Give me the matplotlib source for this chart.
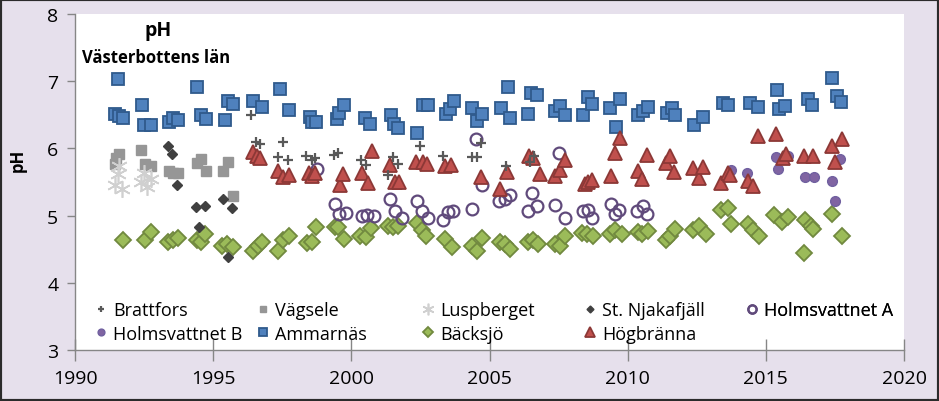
import numpy as np
import matplotlib.pyplot as plt

plt.rcParams['font.family'] = ['Open Sans', 'DejaVu Sans']

# ---------------- data (year, pH) ----------------
brattfors_yr = [1996.36, 1996.55, 1996.70, 1997.33, 1997.52, 1997.70, 1998.36, 1998.57, 1998.68,
                1999.36, 1999.52, 2000.35, 2000.53, 2001.34, 2001.50, 2001.68, 2002.50, 2003.33,
                2004.36, 2004.53, 2004.70, 2005.60, 2006.45, 2006.60]
brattfors_ph = [6.50, 6.10, 6.06, 5.87, 6.10, 5.82, 5.89, 5.83, 5.85,
                5.90, 5.93, 5.83, 5.76, 5.60, 5.87, 5.77, 6.03, 5.88,
                5.87, 5.87, 6.08, 5.74, 5.80, 5.88]

vagsele_yr = [1991.45, 1991.50, 1991.60, 1992.40, 1992.55, 1992.75, 1993.40, 1993.56, 1993.74,
              1994.40, 1994.56, 1994.74, 1995.37, 1995.55, 1995.70]
vagsele_ph = [5.77, 5.85, 5.91, 5.97, 5.77, 5.74, 5.66, 5.64, 5.64,
              5.79, 5.84, 5.67, 5.67, 5.80, 5.29]

luspberget_yr = [1991.45, 1991.55, 1991.60, 1991.70, 1992.40, 1992.50, 1992.60, 1992.75]
luspberget_ph = [5.45, 5.62, 5.74, 5.40, 5.50, 5.64, 5.43, 5.55]

njakafjall_yr = [1993.35, 1993.50, 1993.70, 1994.37, 1994.50, 1994.70, 1995.37, 1995.52, 1995.67]
njakafjall_ph = [6.03, 5.91, 5.46, 5.13, 4.83, 5.15, 5.25, 4.38, 5.11]

holmA_yr = [1998.77, 1999.41, 1999.57, 1999.81, 2000.38, 2000.56, 2000.82, 2001.40, 2001.58, 2001.82,
            2002.39, 2002.57, 2002.79, 2003.30, 2003.51, 2003.69, 2004.36, 2004.52, 2004.72,
            2005.34, 2005.56, 2005.74, 2006.41, 2006.53, 2006.71, 2007.37, 2007.53, 2007.73,
            2008.37, 2008.55, 2008.70, 2009.39, 2009.54, 2009.70, 2010.35, 2010.54, 2010.71]
holmA_ph = [5.69, 5.17, 5.02, 5.04, 4.99, 5.01, 4.99, 5.24, 5.07, 4.96,
            5.22, 5.07, 4.96, 4.94, 5.06, 5.07, 5.10, 6.14, 5.45,
            5.22, 5.25, 5.30, 5.07, 5.34, 5.15, 5.16, 5.93, 4.97,
            5.07, 5.09, 4.97, 5.17, 5.02, 5.09, 5.07, 5.14, 5.02]

holmB_yr = [2013.73, 2014.31, 2015.37, 2015.45, 2015.80, 2016.40, 2016.74, 2017.41, 2017.50, 2017.69]
holmB_ph = [5.68, 5.63, 5.87, 5.70, 5.88, 5.58, 5.58, 5.52, 5.22, 5.84]

ammarnas_yr = [1991.45, 1991.57, 1991.60, 1991.74, 1992.41, 1992.50, 1992.75, 1993.40, 1993.56, 1993.74,
               1994.40, 1994.56, 1994.74, 1995.43, 1995.55, 1995.70, 1996.45, 1996.76, 1997.42, 1997.75,
               1998.50, 1998.56, 1998.71, 1999.47, 1999.55, 1999.73, 2000.50, 2000.68,
               2001.44, 2001.56, 2001.70, 2002.37, 2002.60, 2002.76, 2003.41, 2003.57, 2003.73,
               2004.38, 2004.54, 2004.72, 2005.42, 2005.66, 2005.74, 2006.38, 2006.50, 2006.71,
               2007.37, 2007.55, 2007.73, 2008.37, 2008.55, 2008.72, 2009.36, 2009.57, 2009.72,
               2010.39, 2010.57, 2010.73, 2011.41, 2011.60, 2011.72, 2012.41, 2012.74,
               2013.46, 2013.64, 2014.43, 2014.71, 2015.40, 2015.46, 2015.70, 2016.54, 2016.66,
               2017.41, 2017.57, 2017.72]
ammarnas_ph = [6.51, 7.03, 6.48, 6.45, 6.64, 6.35, 6.35, 6.40, 6.45, 6.42,
               6.92, 6.50, 6.44, 6.43, 6.71, 6.66, 6.70, 6.61, 6.89, 6.57,
               6.46, 6.39, 6.39, 6.44, 6.52, 6.64, 6.45, 6.37,
               6.50, 6.36, 6.31, 6.23, 6.64, 6.65, 6.51, 6.59, 6.70,
               6.60, 6.41, 6.51, 6.60, 6.91, 6.45, 6.51, 6.82, 6.80,
               6.56, 6.63, 6.49, 6.49, 6.76, 6.66, 6.60, 6.32, 6.73,
               6.49, 6.56, 6.62, 6.52, 6.60, 6.49, 6.35, 6.47,
               6.67, 6.64, 6.67, 6.62, 6.87, 6.59, 6.63, 6.74, 6.65,
               7.05, 6.78, 6.69]

backsjo_yr = [1991.75, 1992.53, 1992.75, 1993.38, 1993.56, 1993.74, 1994.40, 1994.56, 1994.70,
              1995.31, 1995.49, 1995.73, 1996.45, 1996.63, 1996.76, 1997.36, 1997.54, 1997.75,
              1998.38, 1998.59, 1998.72, 1999.41, 1999.53, 1999.75, 2000.32, 2000.52, 2000.71,
              2001.34, 2001.52, 2001.70, 2002.37, 2002.55, 2002.69, 2003.39, 2003.63,
              2004.36, 2004.54, 2004.72, 2005.38, 2005.56, 2005.74, 2006.41, 2006.59, 2006.75,
              2007.37, 2007.55, 2007.73, 2008.34, 2008.52, 2008.76, 2009.36, 2009.54, 2009.78,
              2010.39, 2010.53, 2010.73, 2011.38, 2011.53, 2011.72, 2012.38, 2012.58, 2012.82,
              2013.38, 2013.64, 2013.74, 2014.34, 2014.55, 2014.76, 2015.31, 2015.57, 2015.80,
              2016.38, 2016.42, 2016.63, 2016.72, 2017.39, 2017.75]
backsjo_ph = [4.64, 4.63, 4.75, 4.60, 4.63, 4.67, 4.63, 4.60, 4.73,
              4.55, 4.58, 4.54, 4.48, 4.55, 4.60, 4.47, 4.63, 4.69,
              4.59, 4.60, 4.83, 4.83, 4.83, 4.65, 4.70, 4.68, 4.82,
              4.85, 4.83, 4.84, 4.89, 4.78, 4.70, 4.65, 4.54,
              4.55, 4.48, 4.67, 4.60, 4.58, 4.50, 4.60, 4.63, 4.57,
              4.58, 4.55, 4.70, 4.74, 4.73, 4.69, 4.73, 4.79, 4.73,
              4.75, 4.72, 4.77, 4.63, 4.69, 4.80, 4.79, 4.85, 4.73,
              5.08, 5.11, 4.88, 4.88, 4.78, 4.69, 5.01, 4.91, 4.98,
              4.44, 4.94, 4.84, 4.80, 5.02, 4.70]

hogbranna_yr = [1996.45, 1996.58, 1996.69, 1997.34, 1997.54, 1997.75, 1998.45, 1998.57, 1998.69,
                1999.59, 1999.71, 2000.38, 2000.59, 2000.75, 2001.40, 2001.57, 2001.73,
                2002.35, 2002.60, 2002.73, 2003.39, 2003.60, 2004.70, 2005.37, 2005.62,
                2006.44, 2006.56, 2006.83, 2007.37, 2007.55, 2007.73, 2008.46, 2008.58, 2008.70,
                2009.39, 2009.54, 2009.72, 2010.37, 2010.52, 2010.69, 2011.37, 2011.54, 2011.69,
                2012.38, 2012.58, 2012.74, 2013.38, 2013.62, 2013.70, 2014.37, 2014.55, 2014.71,
                2015.38, 2015.61, 2015.73, 2016.38, 2016.72, 2017.39, 2017.50, 2017.75]
hogbranna_ph = [5.94, 5.89, 5.85, 5.66, 5.57, 5.61, 5.64, 5.59, 5.64,
                5.46, 5.62, 5.64, 5.48, 5.96, 5.76, 5.50, 5.50,
                5.80, 5.80, 5.77, 5.74, 5.76, 5.57, 5.40, 5.65,
                5.88, 5.85, 5.62, 5.59, 5.68, 5.83, 5.47, 5.50, 5.53,
                5.59, 5.93, 6.16, 5.67, 5.54, 5.90, 5.78, 5.88, 5.65,
                5.71, 5.56, 5.72, 5.48, 5.64, 5.61, 5.52, 5.44, 6.19,
                6.22, 5.85, 5.92, 5.89, 5.89, 6.03, 5.80, 6.14]

# ---------------- figure ----------------
W, H = 939, 402
fig = plt.figure(figsize=(W / 100, H / 100), dpi=100, facecolor='#E6E0EC')
ax = fig.add_axes([75 / W, 1 - 351 / H, (904 - 75) / W, (351 - 15) / H])
ax.set_facecolor('white')

series = [
    ('Brattfors', brattfors_yr, brattfors_ph,
     dict(marker='+', color='#595959', ms=7, mew=1.6, zorder=9)),
    ('Vägsele', vagsele_yr, vagsele_ph,
     dict(marker='s', color='#969696', mec='#969696', ms=7, zorder=6)),
    ('Luspberget', luspberget_yr, luspberget_ph,
     dict(marker=(6, 2, 0), color='#D0D0D0', ms=12, mew=1.2, zorder=7)),
    ('St. Njakafjäll', njakafjall_yr, njakafjall_ph,
     dict(marker='D', color='#404040', mec='#404040', ms=5, zorder=8)),
    ('Holmsvattnet A', holmA_yr, holmA_ph,
     dict(marker='o', mfc='none', mec='#604A7B', ms=8.5, mew=1.6, zorder=3)),
    ('Holmsvattnet B', holmB_yr, holmB_ph,
     dict(marker='o', color='#8064A2', mec='#7060A0', ms=7, zorder=3)),
    ('Ammarnäs', ammarnas_yr, ammarnas_ph,
     dict(marker='s', color='#4F81BD', mec='#2F5A8C', ms=9, mew=1.3, zorder=4)),
    ('Bäcksjö', backsjo_yr, backsjo_ph,
     dict(marker='D', color='#9BBB59', mec='#71893F', ms=8, mew=1.3, zorder=2)),
    ('Högbränna', hogbranna_yr, hogbranna_ph,
     dict(marker='^', color='#C0504D', mec='#8C3836', ms=10.5, mew=1.3, zorder=5)),
]

handles = {}
for name, x, y, st in series:
    ln, = ax.plot(x, y, ls='none', label=name, **st)
    handles[name] = ln

ax.set_xlim(1990, 2020)
ax.set_ylim(3, 8)
ax.set_xticks(np.arange(1990, 2021, 5))
ax.set_yticks(np.arange(3, 9, 1))

for side in ['top', 'right']:
    ax.spines[side].set_visible(False)
for side in ['left', 'bottom']:
    ax.spines[side].set_color('#868686')
    ax.spines[side].set_linewidth(1)

ax.tick_params(axis='y', direction='out', length=6, width=1, color='#868686',
               labelsize=14, pad=6)
ax.tick_params(axis='x', direction='inout', length=16, width=1, color='#868686',
               labelsize=14, pad=6)

# titles inside the plot area
ax.text(0.100, 0.952, 'pH', transform=ax.transAxes, ha='center', va='center',
        fontsize=14, fontweight='bold')
ax.text(0.098, 0.872, 'Västerbottens län', transform=ax.transAxes, ha='center',
        va='center', fontsize=12, fontweight='bold')
fig.text(18 / W, 1 - 160 / H, 'pH', rotation=90, ha='center', va='center',
         fontsize=12, fontweight='bold')

# legend: five evenly spaced columns, like the Excel legend
columns = [['Brattfors', 'Holmsvattnet B'],
           ['Vägsele', 'Ammarnäs'],
           ['Luspberget', 'Bäcksjö'],
           ['St. Njakafjäll', 'Högbränna'],
           ['Holmsvattnet A']]
marker_px = [101, 263, 428, 590, 752]
fs = 13
hl_px = 0.8 * fs * 100 / 72
for names, mx in zip(columns, marker_px):
    x0 = (mx - hl_px / 2 - 75) / (904 - 75)
    leg = ax.legend([handles[n] for n in names], names, loc='upper left',
                    bbox_to_anchor=(x0, (351 - 302) / 336), bbox_transform=ax.transAxes,
                    frameon=False, fontsize=fs, handlelength=0.8, handletextpad=0.27,
                    borderpad=0, borderaxespad=0, labelspacing=0.32, markerscale=0.7)
    ax.add_artist(leg)

# dark frame round the whole chart
fig.add_artist(plt.Rectangle((0, 0), 1, 1, transform=fig.transFigure, fill=False,
                             ec='#2b2b2b', lw=3))

fig.savefig('out.png', dpi=100, facecolor=fig.get_facecolor())
